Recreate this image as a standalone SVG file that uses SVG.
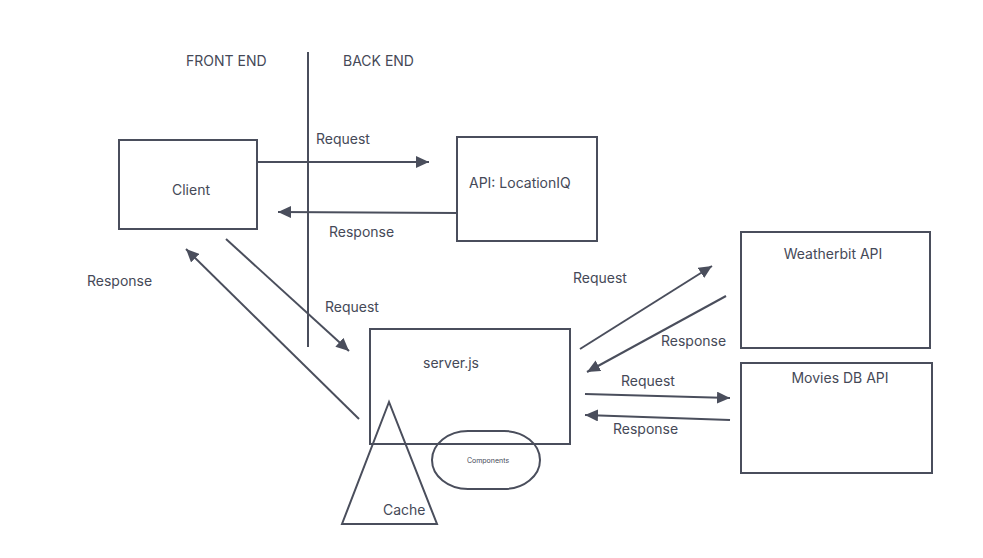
<svg xmlns="http://www.w3.org/2000/svg" width="983" height="558" viewBox="0 0 983 558">
<style>
.box{fill:none;stroke:#4a4e5c;stroke-width:2}
.ln{fill:none;stroke:#4a4e5c;stroke-width:2}
.ar{fill:none;stroke:#4a4e5c;stroke-width:2;marker-end:url(#ah)}
text{font-family:Inter,"Liberation Sans",sans-serif;font-size:14px;fill:#454957}
</style>
<defs>
<marker id="ah" markerUnits="userSpaceOnUse" markerWidth="14" markerHeight="12" refX="13" refY="6" orient="auto">
<path d="M0,0 L13,6 L0,12 z" fill="#4a4e5c"/>
</marker>
</defs>
<rect width="983" height="558" fill="#ffffff"/>
<g id="labels-top">
<text x="186" y="66">FRONT END</text>
<text x="343" y="66">BACK END</text>
</g>
<g id="divider"><line class="ln" x1="308" y1="52" x2="308" y2="347"/></g>
<g id="client">
<rect class="box" x="119" y="140" width="138" height="89"/>
<text x="172" y="195">Client</text>
</g>
<g id="locationiq">
<rect class="box" x="457" y="137" width="140" height="104"/>
<text x="469" y="188">API: LocationIQ</text>
</g>
<g id="server">
<rect class="box" x="370" y="329" width="200" height="115"/>
<text x="423" y="368">server.js</text>
</g>
<g id="cache">
<polygon class="box" points="389,402 342,524 437,524"/>
<text x="383" y="515">Cache</text>
</g>
<g id="components">
<rect class="box" x="432" y="431" width="108" height="58" rx="36" ry="29"/>
<text x="488" y="463" text-anchor="middle" style="font-size:7px">Components</text>
</g>
<g id="weatherbit">
<rect class="box" x="741" y="232" width="189" height="116"/>
<text x="833" y="259" text-anchor="middle">Weatherbit API</text>
</g>
<g id="moviesdb">
<rect class="box" x="741" y="363" width="191" height="110"/>
<text x="840" y="383" text-anchor="middle">Movies DB API</text>
</g>
<g id="connectors">
<line class="ar" x1="258" y1="162" x2="429" y2="162"/>
<line class="ar" x1="457" y1="213" x2="278" y2="212"/>
<line class="ar" x1="226" y1="239" x2="349" y2="351"/>
<line class="ar" x1="359" y1="419" x2="186" y2="249"/>
<line class="ar" x1="580" y1="349" x2="712" y2="266"/>
<line class="ar" x1="726" y1="296" x2="587" y2="372"/>
<line class="ar" x1="585" y1="394" x2="730" y2="398"/>
<line class="ar" x1="730" y1="420" x2="585" y2="415"/>
</g>
<g id="connector-labels">
<text x="316" y="144">Request</text>
<text x="329" y="237">Response</text>
<text x="87" y="286">Response</text>
<text x="325" y="312">Request</text>
<text x="573" y="283">Request</text>
<text x="661" y="346">Response</text>
<text x="621" y="386">Request</text>
<text x="613" y="434">Response</text>
</g>
</svg>
